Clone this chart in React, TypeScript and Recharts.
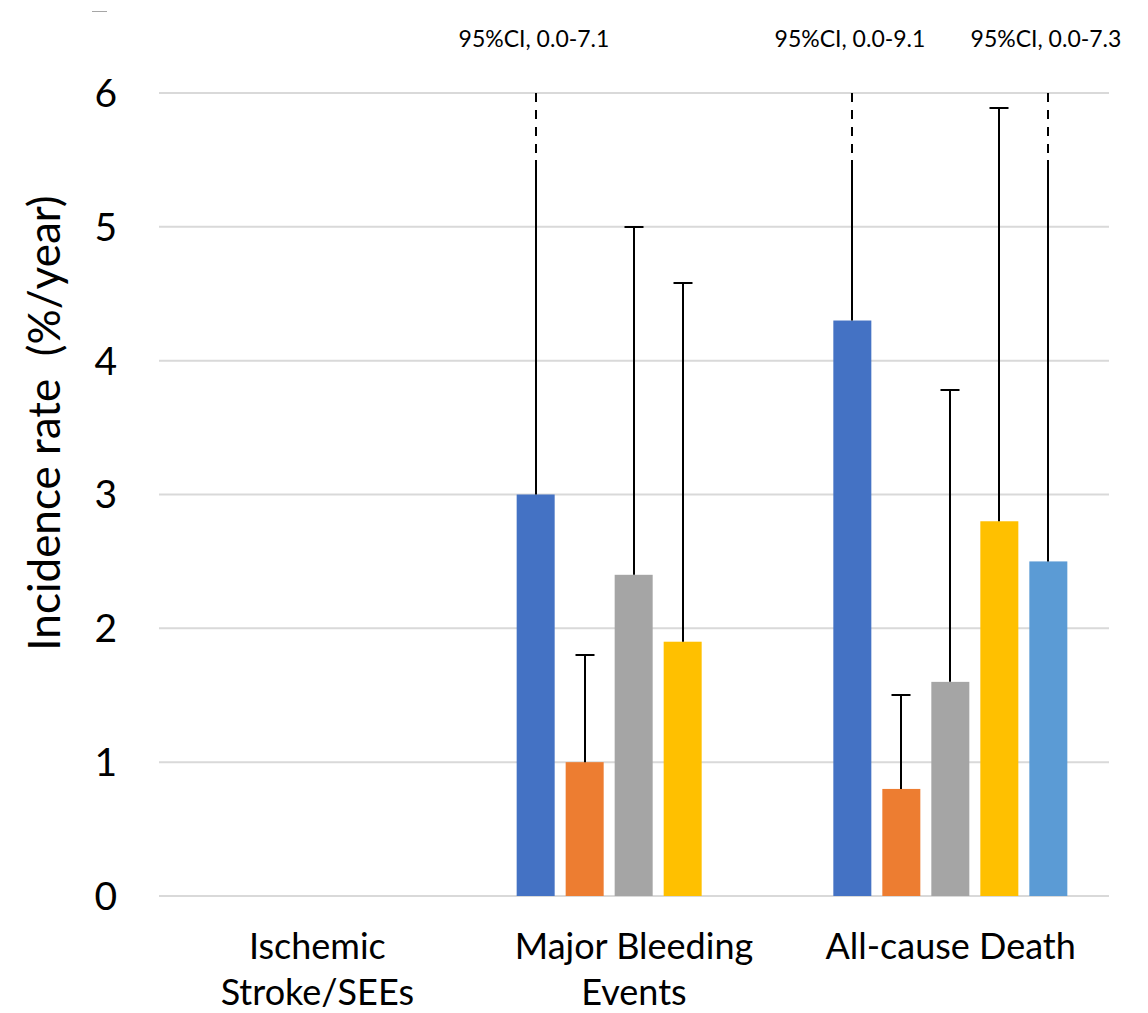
import React from 'react';
import { BarChart, Bar, XAxis, YAxis, CartesianGrid } from 'recharts';

// ---- data ----
const categories = ['Ischemic\nStroke/SEEs', 'Major Bleeding\nEvents', 'All-cause Death'];
const series1 = [0, 3.0, 4.3];
const series1Upper = [null, 7.1, 9.1];
const series2 = [0, 1.0, 0.8];
const series2Upper = [null, 1.8, 1.5];
const series3 = [0, 2.4, 1.6];
const series3Upper = [null, 5.0, 3.78];
const series4 = [0, 1.9, 2.8];
const series4Upper = [null, 4.58, 5.89];
const series5 = [0, 0, 2.5];
const series5Upper = [null, null, 7.3];
const series1CI = [null, '95%CI, 0.0-7.1', '95%CI, 0.0-9.1'];
const series5CI = [null, null, '95%CI, 0.0-7.3'];
const yTicks = [0, 1, 2, 3, 4, 5, 6];
const AXIS_MAX = 6;
const BREAK_VALUE = 5.5;

const data = categories.map((c, i) => ({
  name: c,
  s1: series1[i], s1Hi: series1Upper[i], s1CI: series1CI[i],
  s2: series2[i], s2Hi: series2Upper[i], s2CI: null,
  s3: series3[i], s3Hi: series3Upper[i], s3CI: null,
  s4: series4[i], s4Hi: series4Upper[i], s4CI: null,
  s5: series5[i], s5Hi: series5Upper[i], s5CI: series5CI[i],
}));

const FONT = 'Lato, "Open Sans", sans-serif';

const makeShape = (key: string, fill: string) => (props: any) => {
  const { x, y, width, height, payload } = props;
  const value = payload[key];
  const hi = payload[key + 'Hi'];
  const ci = payload[key + 'CI'];
  const els: any[] = [];
  if (height > 0) {
    els.push(<rect key="r" x={x} y={y} width={width} height={height} fill={fill} />);
  }
  if (hi != null && value > 0 && height > 0) {
    const k = height / value;
    const base = y + height;
    const py = (v: number) => base - v * k;
    const cx = Math.round(x + width / 2);
    if (hi <= AXIS_MAX) {
      const cy = Math.round(py(hi));
      els.push(<line key="l" x1={cx} x2={cx} y1={y} y2={cy} stroke="#000" strokeWidth={2} />);
      els.push(<line key="c" x1={cx - 9.5} x2={cx + 9.5} y1={cy} y2={cy} stroke="#000" strokeWidth={2} />);
    } else {
      els.push(<line key="l" x1={cx} x2={cx} y1={y} y2={py(BREAK_VALUE)} stroke="#000" strokeWidth={2} />);
      els.push(
        <line key="d" x1={cx} x2={cx} y1={py(AXIS_MAX)} y2={py(BREAK_VALUE) - 3} stroke="#000" strokeWidth={2} strokeDasharray="9 8" />
      );
    }
    if (ci) {
      els.push(
        <text key="t" x={cx - 2} y={py(AXIS_MAX) - 46} textAnchor="middle" fontFamily={FONT} fontSize={23} fill="#000">
          {ci}
        </text>
      );
    }
  }
  return <g>{els}</g>;
};

const CategoryTick = (props: any) => {
  const { x, y, payload } = props;
  const lines = String(payload.value).split('\n');
  return (
    <g>
      {lines.map((ln, i) => (
        <text key={i} x={x} y={y + 63 + i * 46} textAnchor="middle" fontFamily={FONT} fontSize={36} fill="#000">
          {ln}
        </text>
      ))}
    </g>
  );
};

const YLabel = () => (
  <text
    x={60}
    y={423}
    transform="rotate(-90 60 423)"
    textAnchor="middle"
    fontFamily={FONT}
    fontSize={44}
    fill="#000"
    xmlSpace="preserve"
    style={{ whiteSpace: 'pre' }}
  >
    {'Incidence rate  (%/year)'}
  </text>
);

const seriesDefs = [
  { key: 's1', fill: '#4472C4' },
  { key: 's2', fill: '#ED7D31' },
  { key: 's3', fill: '#A5A5A5' },
  { key: 's4', fill: '#FFC000' },
  { key: 's5', fill: '#5B9BD5' },
];

export default function App() {
  return (
    <div style={{ position: 'absolute', left: 0, top: 0, width: 1148, height: 1013, background: '#fff' }}>
      <div style={{ position: 'absolute', left: 92, top: 11, width: 15, height: 1, background: '#a6a6a6' }} />
      <BarChart
        width={1148}
        height={1013}
        data={data}
        margin={{ top: 93, right: 39, left: 0, bottom: 0 }}
        barSize={38}
        barGap={11}
      >
        <CartesianGrid vertical={false} stroke="#D9D9D9" strokeWidth={2} />
        <XAxis
          dataKey="name"
          height={117}
          axisLine={false}
          tickLine={false}
          tickSize={0}
          tickMargin={0}
          interval={0}
          tick={<CategoryTick />}
        />
        <YAxis
          width={159}
          domain={[0, AXIS_MAX]}
          ticks={yTicks}
          axisLine={false}
          tickLine={false}
          tickSize={0}
          tickMargin={42}
          tick={{ fontFamily: FONT, fontSize: 39, fill: '#000' }}
          label={{ content: () => <YLabel /> }}
        />
        {seriesDefs.map((s) => (
          <Bar key={s.key} dataKey={s.key} fill={s.fill} isAnimationActive={false} shape={makeShape(s.key, s.fill)} />
        ))}
      </BarChart>
    </div>
  );
}
